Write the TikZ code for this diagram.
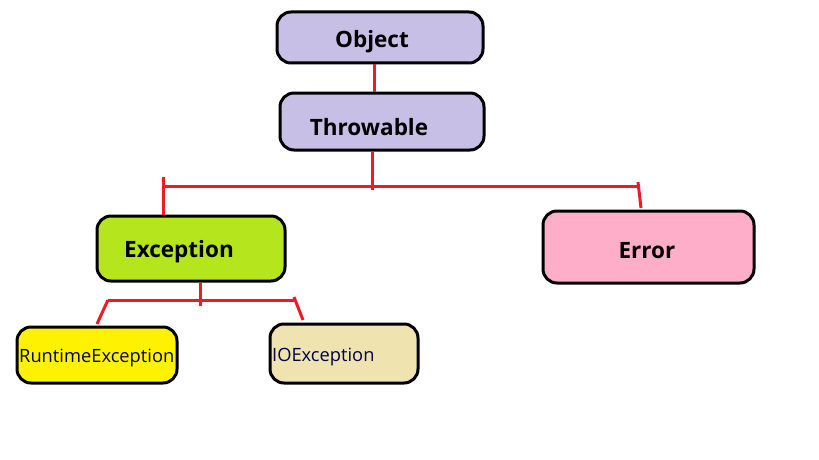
\documentclass[tikz,border=0pt]{standalone}
\usepackage{fontspec}
\setmainfont{Open Sans}
\definecolor{lav}{HTML}{C8BFE7}
\definecolor{lime}{HTML}{B5E61D}
\definecolor{pinkb}{HTML}{FFAEC9}
\definecolor{yel}{HTML}{FFF200}
\definecolor{tan}{HTML}{EFE4B0}
\definecolor{redl}{HTML}{ED1C24}
\begin{document}
\begin{tikzpicture}[x=1pt,y=-1pt,
  box/.style={draw=black, line width=3pt, rounded corners=14pt, inner sep=0pt},
  big/.style={font=\bfseries\fontsize{22.5}{26}\selectfont, text=black, inner sep=0pt},
  small/.style={font=\fontsize{18.3}{21}\selectfont, text=black!70!blue, inner sep=0pt},
  wire/.style={draw=redl, line width=3pt}]
\useasboundingbox (0,0) rectangle (819,460);
\fill[white] (0,0) rectangle (819,460);
% boxes
\node[box, fill=lav, minimum width=206pt, minimum height=51pt] (obj) at (380,37.5) {};
\node[box, fill=lav, minimum width=204pt, minimum height=57pt] (thr) at (382,121.5) {};
\node[box, fill=lime, minimum width=188pt, minimum height=65pt] (exc) at (191,248.5) {};
\node[box, fill=pinkb, minimum width=211pt, minimum height=72pt] (err) at (648.5,247) {};
\node[box, fill=yel, minimum width=160pt, minimum height=56pt] (rte) at (97,355) {};
\node[box, fill=tan, minimum width=148pt, minimum height=59pt] (ioe) at (344,353.5) {};
% labels
\node[big] (tobj) at (372,42) {Object};
\node[big] (tthr) at (369,127) {Throwable};
\node[big] (texc) at (179,252) {Exception};
\node[big] (terr) at (647,251) {Error};
\node[small, anchor=west] (trte) at (19,358) {RuntimeException};
\node[small, anchor=west] (tioe) at (272,357) {IOException};
% bus coordinates
\coordinate (a1) at (374,0);
\coordinate (b1) at (163,186);
\coordinate (b2) at (372,186);
\coordinate (b3) at (638,186);
\coordinate (b1t) at (163,177);
\coordinate (b2t) at (372,190);
\coordinate (b3t) at (638,182);
\coordinate (b3b) at (641,208);
\coordinate (c1) at (108,300);
\coordinate (c2) at (200,300);
\coordinate (c3) at (294,300);
\coordinate (c2b) at (200,306);
\coordinate (c3t) at (294,297);
\coordinate (c1b) at (97,324);
\coordinate (c3b) at (303,320);
% connectors
\draw[wire] (obj.south -| a1) -- (thr.north -| a1);
\draw[wire] (thr.south -| b2) -- (b2t);
\draw[wire] (b1) -- (b3);
\draw[wire] (b1t) -- (b1) -- (exc.north -| b1);
\draw[wire] (b3t) -- (b3b);
\draw[wire] (exc.south -| c2) -- (c2b);
\draw[wire] (c1) -- (c3);
\draw[wire] (c1) -- (c1b);
\draw[wire] (c3t) -- (c3b);
\end{tikzpicture}
\end{document}
